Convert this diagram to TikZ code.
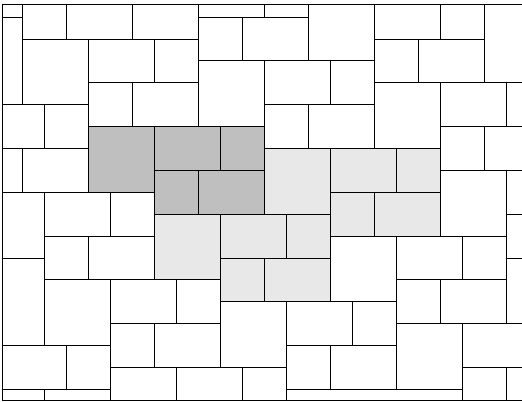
\documentclass[tikz,border=0pt]{standalone}
\usepackage{amsmath}
\usepackage{color}
\definecolor{darktone}{gray}{0.75}
\definecolor{lighttone}{gray}{0.91}
\tikzset{
  darktile/.style={fill=darktone},
  lighttile/.style={fill=lighttone},
}

\begin{document}
\begin{tikzpicture}[x=0.55cm, y=-0.5475cm, line width=0.7pt]
\useasboundingbox (-0.032, -0.781) rectangle (23.695, 17.575);

\begin{scope}
\clip (0.09, -0.598) rectangle (24, 17.52);

% shaded blocks
\fill [darktile] (4, 5) rectangle (7, 8) (7, 5) rectangle (12, 7) (7, 7) rectangle (12, 9);
\fill [lighttile] (12, 6) rectangle (20, 8) (12, 8) rectangle (20, 9) (15, 9) rectangle (20, 10);
\fill [lighttile] (7, 9) rectangle (15, 11) (7, 11) rectangle (15, 12) (10, 12) rectangle (15, 13);

% top rows
\draw (-1, -1) rectangle (1, 0) (-1, 0) rectangle (1, 4) (1, -1) rectangle (3, 1) (3, -1) rectangle (6, 1);
\draw (6, -1) rectangle (9, 1) (9, -1) rectangle (12, 0) (12, -1) rectangle (14, 0) (14, -1) rectangle (17, 2);
\draw (17, -1) rectangle (20, 1) (20, -1) rectangle (22, 1) (22, -1) rectangle (25, 3);
\draw (1, 1) rectangle (4, 4) (4, 1) rectangle (7, 3) (7, 1) rectangle (9, 3) (9, 0) rectangle (11, 2);
\draw (11, 0) rectangle (14, 2) (17, 1) rectangle (19, 3) (19, 1) rectangle (22, 3);
\draw (4, 3) rectangle (6, 5) (6, 3) rectangle (9, 5) (9, 2) rectangle (12, 5) (12, 2) rectangle (15, 4);
\draw (15, 2) rectangle (17, 4) (17, 3) rectangle (20, 6) (20, 3) rectangle (23, 5) (23, 3) rectangle (25, 5);

% middle rows
\draw (-1, 4) rectangle (2, 6) (2, 4) rectangle (4, 6) (12, 4) rectangle (14, 6) (14, 4) rectangle (17, 6);
\draw (20, 5) rectangle (22, 7) (22, 5) rectangle (25, 7) (-1, 6) rectangle (1, 8) (1, 6) rectangle (4, 8);
\draw (4, 5) rectangle (7, 8) (7, 5) rectangle (10, 7) (10, 5) rectangle (12, 7) (7, 7) rectangle (9, 9) (9, 7) rectangle (12, 9);
\draw (12, 6) rectangle (15, 9) (15, 6) rectangle (18, 8) (18, 6) rectangle (20, 8) (15, 8) rectangle (17, 10) (17, 8) rectangle (20, 10);
\draw (20, 7) rectangle (23, 10) (23, 7) rectangle (25, 9) (-1, 8) rectangle (2, 11) (2, 8) rectangle (5, 10);
\draw (5, 8) rectangle (7, 10) (23, 9) rectangle (25, 11) (2, 10) rectangle (4, 12) (4, 10) rectangle (7, 12);
\draw (7, 9) rectangle (10, 12) (10, 9) rectangle (13, 11) (13, 9) rectangle (15, 11) (10, 11) rectangle (12, 13) (12, 11) rectangle (15, 13);
\draw (15, 10) rectangle (18, 13) (18, 10) rectangle (21, 12) (21, 10) rectangle (23, 12) (23, 11) rectangle (25, 14);

% bottom rows
\draw (-1, 11) rectangle (2, 15) (2, 12) rectangle (5, 15) (5, 12) rectangle (8, 14) (8, 12) rectangle (10, 14);
\draw (18, 12) rectangle (20, 14) (20, 12) rectangle (23, 14) (10, 13) rectangle (13, 16) (13, 13) rectangle (16, 15);
\draw (16, 13) rectangle (18, 15) (5, 14) rectangle (7, 16) (7, 14) rectangle (10, 16) (18, 14) rectangle (21, 17);
\draw (21, 14) rectangle (25, 16) (-1, 15) rectangle (3, 17) (3, 15) rectangle (5, 17) (13, 15) rectangle (15, 17);
\draw (15, 15) rectangle (18, 17) (5, 16) rectangle (8, 19) (8, 16) rectangle (11, 19) (11, 16) rectangle (13, 19);
\draw (21, 16) rectangle (23, 19) (23, 16) rectangle (25, 19) (-1, 17) rectangle (2, 19) (2, 17) rectangle (5, 19);
\draw (13, 17) rectangle (21, 19);
\end{scope}

% frame
\draw (24, -0.598) -- (0.09, -0.598) -- (0.09, 17.52) -- (24, 17.52);
\end{tikzpicture}
\end{document}
